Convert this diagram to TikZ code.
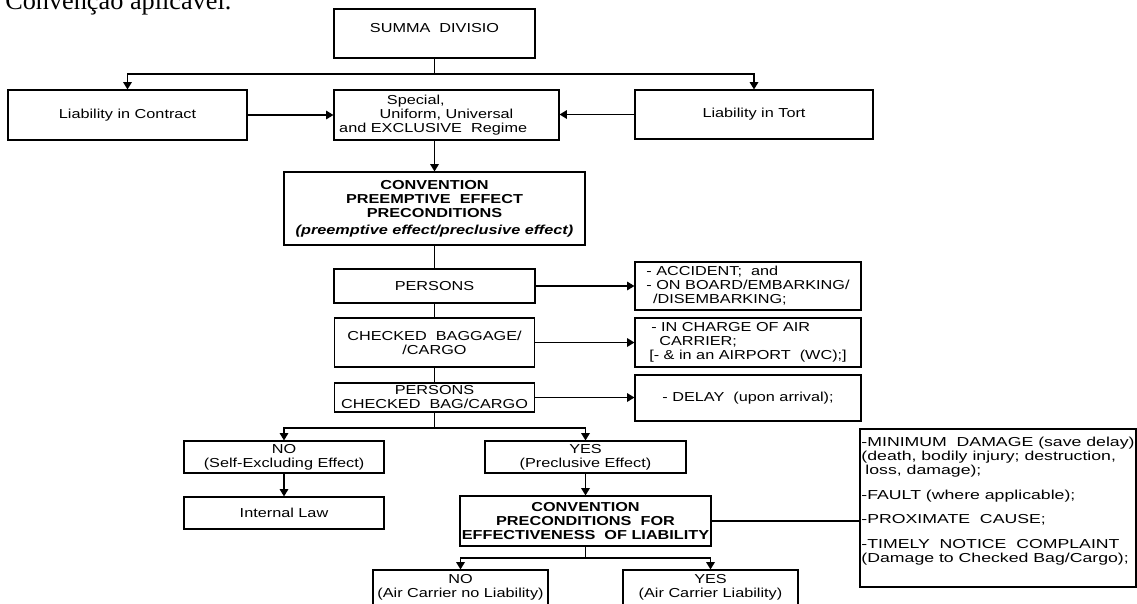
\documentclass[tikz,border=0pt]{standalone}
\usepackage{fontspec}
\setmainfont{Liberation Sans}[FakeStretch=1.25]
\newfontfamily\condfont{Liberation Sans}[FakeStretch=1.36]
\newfontfamily\pagefont{Liberation Serif}
\usetikzlibrary{arrows.meta, calc}

\begin{document}
\begin{tikzpicture}[x=0.75pt, y=-0.75pt,
  box/.style={draw, line width=0.9pt, align=center, inner sep=2pt, font=\fontsize{9.75}{10.5}\selectfont},
  head/.style={font=\fontsize{9.75}{10.5}\selectfont\bfseries},
  sz/.style 2 args={minimum width=#1*0.75pt, minimum height=#2*0.75pt},
  link/.style={line width=0.9pt},
  arr/.style={link, -{Triangle[length=5.5pt,width=6.5pt]}}]

\useasboundingbox (0,0) rectangle (1137,603);

% Page text above the chart (cut by the page edge)
\node[anchor=base west, inner sep=0, font=\pagefont\fontsize{19.7}{22}\selectfont] (caption) at (5,9) {Convenção aplicável.};

% Top level
\node[box, sz={201}{49}, text depth=8.8pt] (summa) at (434.5,33.5) {SUMMA~~DIVISIO};
\node[box, sz={239}{50}] (contract) at (127.5,115) {Liability in Contract};
\node[box, sz={225}{50}] (special) at (446.5,115) {Special,\hspace*{46pt}\\ Uniform, Universal\hspace*{12pt}\\ and EXCLUSIVE~~Regime\hspace*{20pt}};
\node[box, sz={238}{49}] (tort) at (754,114.5) {Liability in Tort};

% Preemptive effect
\node[box, head, sz={301}{73}] (conv) at (434.5,208.5) {CONVENTION\\ PREEMPTIVE~~EFFECT\\ PRECONDITIONS\\[2pt] \textit{(preemptive effect/preclusive effect)}};
\node[box, sz={201}{34}] (persons) at (434.5,286) {PERSONS};
\node[box, sz={200}{49}] (baggage) at (434.5,342.5) {CHECKED~~BAGGAGE/\\ /CARGO};
\node[box, sz={200}{29}] (both) at (434.5,397.5) {PERSONS\\ CHECKED~~BAG/CARGO};

% Conditions on the right
\node[box, align=left, sz={226}{48}] (accident) at (748,286) {- ACCIDENT;~~and\\ - ON BOARD/EMBARKING/\\ \hspace*{5pt}/DISEMBARKING;};
\node[box, align=left, sz={226}{49}] (charge) at (748,342.5) {\hspace*{1.5pt}- IN CHARGE OF AIR\\ \hspace*{7.5pt}CARRIER;\\ {[}- \& in an AIRPORT~~(WC);]};
\node[box, align=left, sz={226}{46}] (delay) at (748,398) {- DELAY~~(upon arrival);};

% Outcome
\node[box, sz={200}{32}] (no) at (284,457) {NO\\ (Self-Excluding Effect)};
\node[box, sz={201}{32}] (yes) at (585.5,457) {YES\\ (Preclusive Effect)};
\node[box, sz={200}{32}] (law) at (284,513) {Internal Law};
\node[box, head, sz={251}{50}, inner xsep=0] (conv2) at (585.5,521) {CONVENTION\\ PRECONDITIONS~~FOR\\ EFFECTIVENESS~~OF LIABILITY};
\node[box, sz={175}{40}, text depth=6.3pt] (noliab) at (460.5,590) {NO\\ (Air Carrier no Liability)};
\node[box, sz={175}{40}, text depth=6.3pt] (liab) at (710.5,590) {YES\\ (Air Carrier Liability)};

% Liability preconditions
\node[box, sz={276}{158}, align=left, inner xsep=1pt, text depth=12.2pt, font=\condfont\fontsize{9.75}{10.5}\selectfont] (cond) at (998,508) {-MINIMUM~~DAMAGE (save delay)\\ (death, bodily injury; destruction,\\ \hspace*{3pt}loss, damage);\\[8pt] -FAULT (where applicable);\\[8pt] -PROXIMATE~~CAUSE;\\[8pt] -TIMELY~~NOTICE~~COMPLAINT\\ (Damage to Checked Bag/Cargo);};

% Connectors
\coordinate (split1) at (434.5,74);
\draw[link] (summa.south) -- (split1);
\draw[arr] (split1) -| (contract.north);
\draw[arr] (split1) -| (tort.north);
\draw[arr] (contract.east) -- (special.west);
\draw[arr] (tort.west) -- (tort.west -| special.east);
\draw[arr] (conv.north |- special.south) -- (conv.north);
\draw[link] (conv) -- (persons);
\draw[link] (persons) -- (baggage);
\draw[link] (baggage) -- (both);
\draw[arr] (persons.east) -- (persons.east -| accident.west);
\draw[arr] (baggage.east) -- (charge.west);
\draw[arr] (both.east) -- (both.east -| delay.west);

\coordinate (split2) at (434.5,428);
\draw[link] (both.south) -- (split2);
\draw[arr] (split2) -| (no.north);
\draw[arr] (split2) -| (yes.north);
\draw[arr] (no) -- (law);
\draw[arr] (yes) -- (conv2);

\coordinate (split3) at (585.5,558);
\draw[link] (conv2.south) -- (split3);
\draw[arr] (split3) -| (noliab.north);
\draw[arr] (split3) -| (liab.north);
\draw[link] (conv2.east) -- (conv2.east -| cond.west);

\end{tikzpicture}
\end{document}
